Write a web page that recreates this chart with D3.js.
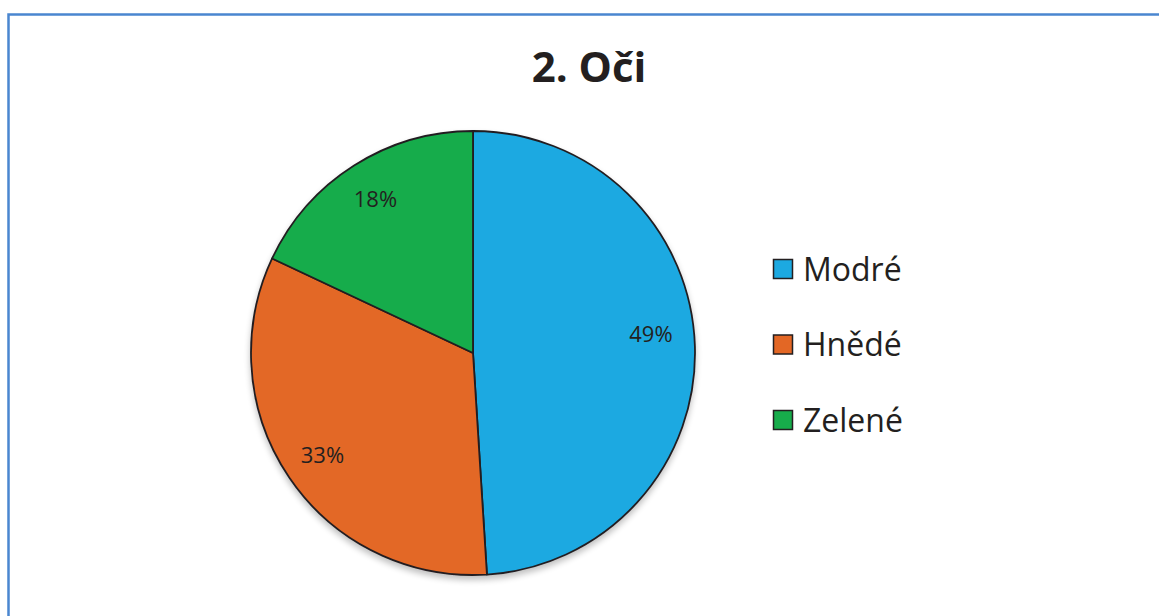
<!DOCTYPE html>
<html>
<head>
<meta charset="utf-8">
<script src="https://cdn.jsdelivr.net/npm/d3@7"></script>
<style>
  body { margin: 0; background: #fff; }
  svg { display: block; }
</style>
</head>
<body>
<svg id="chart"></svg>
<script>
// data
let categories = ['Modré', 'Hnědé', 'Zelené'];
let values = [49, 33, 18];
let colors = ['#1CA9E1', '#E36725', '#17AC4B'];
let title = '2. Oči';

let width = 1159, height = 616;
let svg = d3.select('#chart').attr('width', width).attr('height', height);

// chart frame
svg.append('rect')
  .attr('x', 8.5).attr('y', 14.5)
  .attr('width', 1200).attr('height', 700)
  .style('fill', '#fff')
  .style('stroke', '#4A86D0')
  .style('stroke-width', 2.5);

svg.append('text')
  .attr('x', 589).attr('y', 82)
  .attr('text-anchor', 'middle')
  .style('font-family', '"Open Sans", sans-serif')
  .style('font-weight', 'bold')
  .style('font-size', '42px')
  .style('fill', '#231F20')
  .text(title);

let cx = 473, cy = 353, r = 222;

let defs = svg.append('defs');
let f = defs.append('filter').attr('id', 'shadow')
  .attr('x', '-20%').attr('y', '-20%').attr('width', '140%').attr('height', '140%');
f.append('feGaussianBlur').attr('in', 'SourceAlpha').attr('stdDeviation', 3);
f.append('feOffset').attr('dx', 0).attr('dy', 4).attr('result', 'b');
f.append('feComponentTransfer').append('feFuncA').attr('type', 'linear').attr('slope', 0.25);
let merge = f.append('feMerge');
merge.append('feMergeNode');
merge.append('feMergeNode').attr('in', 'SourceGraphic');

let pie = d3.pie().sort(null).value(d => d);
let arcs = pie(values);
let arc = d3.arc().innerRadius(0).outerRadius(r);
let labelArc = d3.arc().innerRadius(r * 0.82).outerRadius(r * 0.82);
let col = d3.scaleOrdinal().domain(categories).range(colors);

let g = svg.append('g').attr('transform', 'translate(' + cx + ',' + cy + ')');

g.append('g').attr('filter', 'url(#shadow)')
  .selectAll('path')
  .data(arcs)
  .enter()
  .append('path')
  .attr('d', arc)
  .style('fill', (d, i) => col(categories[i]))
  .style('stroke', '#231F20')
  .style('stroke-width', 1.8)
  .style('stroke-linejoin', 'round');

// excel keeps the big slice label a bit higher
g.selectAll('.pct')
  .data(arcs)
  .enter()
  .append('text')
  .attr('class', 'pct')
  .attr('transform', d => {
    let c = labelArc.centroid(d);
    if (d.index == 0) { c[0] -= 4; c[1] -= 13; }
    return 'translate(' + c + ')';
  })
  .attr('text-anchor', 'middle')
  .attr('dy', '0.35em')
  .style('font-family', '"Open Sans", sans-serif')
  .style('font-size', '22px')
  .style('fill', '#231F20')
  .text(d => d.data + '%');

// legend
let legendY = d3.scalePoint().domain(categories).range([269, 420]);
let legend = svg.selectAll('.legend')
  .data(categories)
  .enter()
  .append('g')
  .attr('class', 'legend')
  .attr('transform', d => 'translate(773,' + legendY(d) + ')');

legend.append('rect')
  .attr('x', 0.5).attr('y', -9.5)
  .attr('width', 19).attr('height', 19)
  .style('fill', d => col(d))
  .style('stroke', '#231F20')
  .style('stroke-width', 1.5);

legend.append('text')
  .attr('x', 30).attr('y', 0)
  .attr('dy', '0.36em')
  .style('font-family', '"Open Sans", sans-serif')
  .style('font-size', '32px')
  .style('fill', '#231F20')
  .text(d => d);
</script>
</body>
</html>
